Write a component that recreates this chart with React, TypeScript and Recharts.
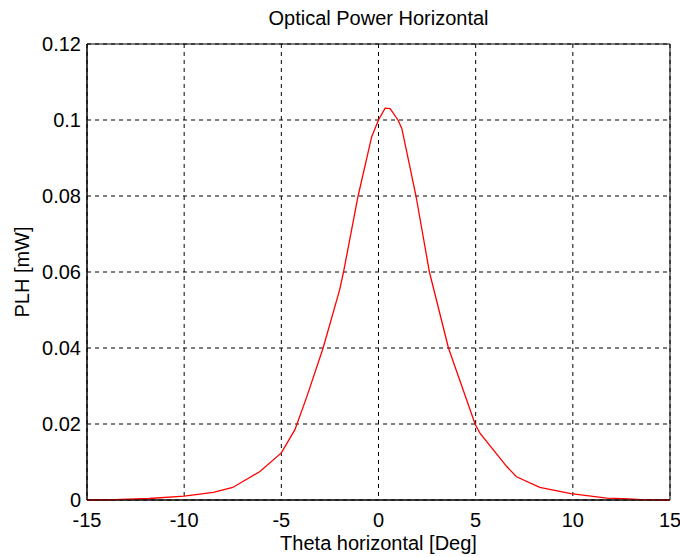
import {
  CartesianGrid,
  Label,
  Line,
  LineChart,
  ReferenceArea,
  XAxis,
  YAxis,
} from "recharts";

// angle in degrees
const thetaDeg = [
  -15, -13.6, -11.8, -10, -8.5, -7.5, -6.1, -5, -4.3, -3.7, -2.85, -2, -1.8,
  -1.05, -0.35, 0, 0.34, 0.6, 1.0, 1.2, 1.93, 2.62, 3.6, 4.97, 5.23, 6.6, 7.1,
  8.3, 9.9, 11.75, 12.9, 13.5, 15,
];
const powerMw = [
  0, 0.0001, 0.0004, 0.001, 0.002, 0.0033, 0.0075, 0.0124, 0.0185, 0.027, 0.04,
  0.0553, 0.06, 0.08, 0.0956, 0.1, 0.1031, 0.103, 0.1, 0.0978, 0.08, 0.06, 0.04,
  0.02, 0.0175, 0.0088, 0.0061, 0.0033, 0.0017, 0.0005, 0.0003, 0.0001, 0,
];

const xTicks = [-15, -10, -5, 0, 5, 10, 15];
const yTicks = [0, 0.02, 0.04, 0.06, 0.08, 0.1, 0.12];

const title = "Optical Power Horizontal";
const xLabel = "Theta horizontal [Deg]";
const yLabel = "PLH [mW]";

const font = '"Liberation Sans", Arial, sans-serif';

export default function App() {
  const data = thetaDeg.map((t, i) => ({ theta: t, plh: powerMw[i] }));

  return (
    <div
      style={{
        position: "absolute",
        left: 0,
        top: 0,
        width: 680,
        height: 557,
        background: "#fff",
        fontFamily: font,
      }}
    >
      <div
        style={{
          position: "absolute",
          left: 0,
          width: 757,
          top: 7,
          textAlign: "center",
          fontSize: 20,
          color: "#000",
        }}
      >
        {title}
      </div>
      <LineChart
        width={680}
        height={557}
        data={data}
        margin={{ top: 44, right: 10, bottom: 0, left: 0 }}
        style={{ fontFamily: font }}
      >
        <CartesianGrid stroke="#000" strokeDasharray="4 4" strokeWidth={1} />
        <XAxis
          dataKey="theta"
          type="number"
          domain={[-15, 15]}
          ticks={xTicks}
          height={57}
          tickSize={0}
          tickMargin={13}
          axisLine={{ stroke: "#000" }}
          tick={{ fill: "#000", fontSize: 20 }}
          interval={0}
        >
          <Label
            value={xLabel}
            position="insideBottom"
            offset={7}
            style={{ fill: "#000", fontSize: 20 }}
          />
        </XAxis>
        <YAxis
          type="number"
          domain={[0, 0.12]}
          ticks={yTicks}
          width={87}
          tickSize={0}
          tickMargin={6}
          axisLine={{ stroke: "#000" }}
          tick={{ fill: "#000", fontSize: 20 }}
          interval={0}
        >
          <Label
            content={({ viewBox }: any) => {
              const cy = viewBox.y + viewBox.height / 2;
              return (
                <text
                  x={22}
                  y={cy}
                  transform={`rotate(-90, 22, ${cy})`}
                  textAnchor="middle"
                  dominantBaseline="central"
                  fill="#000"
                  fontSize={20}
                >
                  {yLabel}
                </text>
              );
            }}
          />
        </YAxis>
        <ReferenceArea
          x1={-15}
          x2={15}
          y1={0}
          y2={0.12}
          fill="none"
          stroke="#000"
          strokeWidth={1}
          ifOverflow="visible"
        />
        <Line
          type="linear"
          dataKey="plh"
          stroke="#ff0000"
          strokeWidth={1.3}
          dot={false}
          isAnimationActive={false}
        />
      </LineChart>
    </div>
  );
}
